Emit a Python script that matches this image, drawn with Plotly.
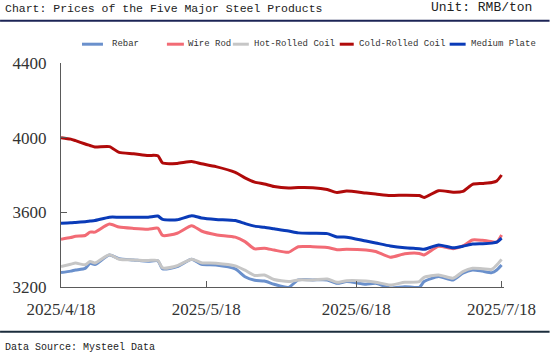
import plotly.graph_objects as go

dates = ["2025-04-18", "2025-04-20", "2025-04-21", "2025-04-23", "2025-04-24", "2025-04-25",
         "2025-04-28", "2025-04-30", "2025-05-03", "2025-05-06", "2025-05-08", "2025-05-09",
         "2025-05-12", "2025-05-15", "2025-05-17", "2025-05-20", "2025-05-24", "2025-05-26",
         "2025-05-28", "2025-05-30", "2025-06-01", "2025-06-04", "2025-06-06", "2025-06-09",
         "2025-06-12", "2025-06-14", "2025-06-16", "2025-06-20", "2025-06-22", "2025-06-25",
         "2025-06-28", "2025-07-01", "2025-07-02", "2025-07-05", "2025-07-08", "2025-07-10",
         "2025-07-12", "2025-07-14", "2025-07-16", "2025-07-17", "2025-07-18"]

rebar = [3277, 3285, 3291, 3300, 3327, 3320, 3372, 3352, 3345, 3338, 3340, 3297, 3309, 3349,
         3322, 3318, 3297, 3255, 3236, 3232, 3215, 3198, 3238, 3238, 3238, 3220, 3229, 3215,
         3220, 3195, 3202, 3198, 3229, 3256, 3238, 3274, 3291, 3285, 3277, 3291, 3318]
wire_rod = [3456, 3465, 3472, 3476, 3494, 3494, 3537, 3521, 3514, 3510, 3515, 3476, 3488, 3528,
            3500, 3480, 3467, 3443, 3404, 3408, 3398, 3386, 3416, 3416, 3412, 3400, 3402, 3398,
            3390, 3360, 3378, 3380, 3372, 3418, 3405, 3420, 3452, 3450, 3443, 3440, 3479]
hot_rolled = [3310, 3322, 3328, 3319, 3337, 3328, 3373, 3349, 3345, 3342, 3342, 3302, 3314, 3349,
              3330, 3327, 3313, 3290, 3262, 3264, 3240, 3229, 3238, 3238, 3243, 3225, 3234, 3232,
              3226, 3211, 3225, 3229, 3252, 3264, 3247, 3282, 3300, 3298, 3295, 3318, 3348]
cold_rolled = [4000, 3992, 3984, 3966, 3958, 3950, 3952, 3921, 3914, 3905, 3903, 3864, 3862, 3872,
               3860, 3845, 3814, 3785, 3762, 3752, 3738, 3730, 3733, 3732, 3722, 3706, 3714, 3703,
               3698, 3690, 3692, 3690, 3680, 3716, 3708, 3712, 3750, 3755, 3760, 3768, 3800]
medium_plate = [3542, 3544, 3546, 3550, 3553, 3556, 3574, 3574, 3574, 3574, 3580, 3562, 3560, 3582,
                3570, 3562, 3556, 3540, 3526, 3520, 3512, 3500, 3490, 3488, 3486, 3468, 3467, 3446,
                3436, 3420, 3410, 3405, 3402, 3425, 3410, 3418, 3430, 3432, 3435, 3440, 3462]

series_names = ["Rebar", "Wire Rod", "Hot-Rolled Coil", "Cold-Rolled Coil", "Medium Plate"]
series_values = [rebar, wire_rod, hot_rolled, cold_rolled, medium_plate]
colors = ["#6a90cc", "#f26b75", "#c6c6c6", "#b00a0a", "#0a3bb8"]

y_ticks = [3200, 3600, 4000, 4400]
x_ticks = ["2025-04-18", "2025-05-18", "2025-06-18", "2025-07-18"]
x_tick_text = ["2025/4/18", "2025/5/18", "2025/6/18", "2025/7/18"]

title_text = "Chart: Prices of the Five Major Steel Products"
unit_text = "Unit: RMB/ton"
source_text = "Data Source: Mysteel Data"

fig = go.Figure()
for name, vals, col in zip(series_names, series_values, colors):
    fig.add_trace(go.Scatter(x=dates, y=vals, mode="lines", name=name,
                             line=dict(color=col, width=3, shape="spline", smoothing=0.6),
                             showlegend=False))

W, H = 550, 354
ml, mr, mt, mb = 61, 45.6, 63.3, 66.7
pw, ph = W - ml - mr, H - mt - mb

def px_x(x):
    return (x - ml) / pw

def px_y(y):
    return 1 - (y - mt) / ph

legend_items = [(82, 103, 110), (167, 184, 186), (233, 249, 252), (340, 354, 357), (450, 466, 469)]
shapes = []
annotations = []
leg_y = 44.5
for (x0, x1, tx), name, col in zip(legend_items, series_names, colors):
    shapes.append(dict(type="line", xref="paper", yref="paper",
                       x0=px_x(x0), x1=px_x(x1), y0=px_y(leg_y), y1=px_y(leg_y),
                       line=dict(color=col, width=3)))
    annotations.append(dict(text=name, xref="paper", yref="paper", x=px_x(tx), y=px_y(leg_y),
                            xanchor="left", yanchor="middle", showarrow=False,
                            font=dict(family="Liberation Mono", size=9, color="#333333")))

shapes.append(dict(type="line", xref="paper", yref="paper", x0=px_x(0), x1=px_x(550),
                   y0=px_y(21), y1=px_y(21), line=dict(color="#1c2456", width=2)))
shapes.append(dict(type="line", xref="paper", yref="paper", x0=px_x(0), x1=px_x(550),
                   y0=px_y(332), y1=px_y(332), line=dict(color="#1b2d3c", width=2)))

annotations.append(dict(text=title_text, xref="paper", yref="paper", x=px_x(3), y=px_y(8.5),
                        xanchor="left", yanchor="middle", showarrow=False,
                        font=dict(family="Liberation Mono", size=11.5, color="#222222")))
annotations.append(dict(text=unit_text, xref="paper", yref="paper", x=px_x(534), y=px_y(8),
                        xanchor="right", yanchor="middle", showarrow=False,
                        font=dict(family="Liberation Mono", size=13, color="#222222")))
annotations.append(dict(text=source_text, xref="paper", yref="paper", x=px_x(3), y=px_y(348),
                        xanchor="left", yanchor="middle", showarrow=False,
                        font=dict(family="Liberation Mono", size=10, color="#222222")))

fig.update_layout(
    width=W, height=H,
    margin=dict(l=ml, r=mr, t=mt, b=mb, pad=0),
    paper_bgcolor="white", plot_bgcolor="white",
    shapes=shapes, annotations=annotations,
    xaxis=dict(type="date", range=["2025-04-18", "2025-07-18 12:00"],
               tickvals=x_ticks, ticktext=x_tick_text,
               showgrid=False, zeroline=False, showline=True, linecolor="#5a5a5a", linewidth=1.3,
               ticks="inside", ticklen=6, tickcolor="#5a5a5a", tickwidth=1.3,
               ticklabelstandoff=6,
               tickfont=dict(family="Liberation Serif", size=17, color="#333333")),
    yaxis=dict(range=[3200, 4400], tickvals=y_ticks,
               showgrid=False, zeroline=False, showline=True, linecolor="#5a5a5a", linewidth=1.3,
               ticks="inside", ticklen=6, tickcolor="#5a5a5a", tickwidth=1.3,
               ticklabelstandoff=10,
               tickfont=dict(family="Liberation Serif", size=17, color="#333333")),
    showlegend=False,
)

fig.write_html("out.html")
